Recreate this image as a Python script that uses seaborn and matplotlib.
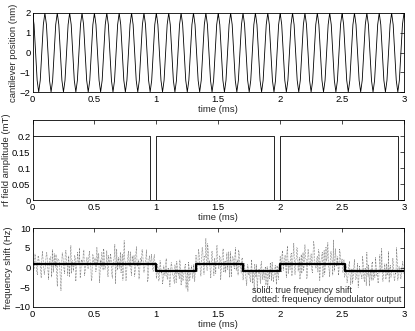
import numpy as np
import pandas as pd
import matplotlib
matplotlib.use("Agg")
import matplotlib.pyplot as plt
import seaborn as sns

# ---- data ----
# one period of the cantilever position (nm), sampled 8 times per period
cantilever_cycle = [2.0, 1.41, 0.0, -1.41, -2.0, -1.41, 0.0, 1.41]
cantilever_period = 0.1   # ms
n_cycles = 30

# rf field amplitude (mT): on, short off gap before each ms
rf_times = [0.0, 0.95, 0.95, 1.0, 1.0, 1.95, 1.95, 2.0, 2.0, 2.95, 2.95, 3.0]
rf_values = [0.2, 0.2, 0.0, 0.0, 0.2, 0.2, 0.0, 0.0, 0.2, 0.2, 0.0, 0.0]

# true frequency shift (Hz), step changes
shift_times = [0.0, 1.0, 1.32, 1.70, 2.0, 2.52, 3.0]
shift_values = [1, -1, 1, -1, 1, -1, -1]

# frequency demodulator output (Hz), samples at 0.00, 0.01, ... ms
demod_step = 0.01
demod_output = [
    2.1, -0.8, 3.4, 0.5, -1.9, 2.7, 1.2, -2.6, 4.1, 0.3,
    -0.5, 3.0, 1.8, -3.1, 2.4, 0.9, 4.6, -1.2, 1.5, 3.3,
    -4.8, 2.2, 0.1, -5.9, 3.7, 1.1, -1.6, 4.4, 0.6, 2.9,
    -2.3, 5.6, 1.4, -0.9, 3.1, -3.5, 2.0, 0.8, 4.9, -1.4,
    1.7, 3.6, -2.1, 0.4, 2.6, -0.3, 4.2, 1.0, -2.8, 3.2,
    0.7, -1.1, 5.1, 2.3, -3.9, 1.9, 3.8, -0.6, 2.5, 0.2,
    4.3, -2.4, 1.3, 3.5, -1.7, 0.5, 2.8, -4.1, 4.7, 1.6,
    -0.2, 3.9, 0.9, -3.2, 6.8, 1.2, -1.5, 2.7, 0.3, 4.0,
    -2.0, 1.8, 3.1, -0.7, 5.3, 0.6, -2.9, 2.2, 1.4, 3.6,
    -1.3, 0.8, 4.5, -3.6, 2.0, 1.1, 3.4, -0.4, 2.6, 0.0,
    -2.8, 0.9, -3.4, 1.7, -1.5, -4.2, 0.4, -2.1, 2.3, -3.0,
    -0.6, -4.9, 1.2, -1.8, -2.7, 0.7, -3.8, -0.2, -1.4, 1.9,
    -4.5, -0.9, -2.4, 0.3, -5.2, -1.1, 1.4, -3.3, -0.5, -2.0,
    0.8, -3.6,
    3.2, -1.0, 4.6, 1.3, -2.2, 5.1, 0.6, 2.9, 7.4, -0.8,
    3.5, 1.8, -2.7, 4.2, 0.4, 2.4, -1.6, 5.6, 1.0, 3.0,
    -3.1, 2.1, 4.8, 0.2, -1.3, 3.7, 1.5, -2.5, 4.0, 0.9,
    2.6, -0.4, 5.0, 1.2, -1.9, 3.4, 0.7, 2.2,
    -3.2, 1.1, -2.0, -4.6, 0.5, -1.2, -3.7, 2.0, -0.7, -5.8,
    -1.6, 0.8, -2.9, -0.3, -4.1, 1.5, -1.9, -3.0, 0.2, -2.4,
    -5.1, -0.6, 1.2, -3.4, -1.0, -2.2, 0.6, -4.3, -1.5, 0.1,
    2.8, -1.2, 4.3, 0.7, 3.1, -2.6, 5.4, 1.6, -0.5, 3.7,
    1.0, 6.2, -1.8, 2.4, 4.9, 0.3, -3.0, 3.3, 1.9, -0.8,
    5.8, 2.1, -2.2, 4.0, 0.5, 3.5, -1.4, 6.6, 1.3, -0.2,
    2.9, 4.5, -3.3, 1.7, 3.9, 0.1, -1.7, 5.2, 2.5, 0.9,
    -2.4, 4.1, 1.4, 7.0, -0.9, 3.0, 0.6, -2.0, 4.7, 1.8,
    2.2, -1.1,
    -2.5, 0.8, -3.9, -1.1, 1.6, -4.4, -0.3, -2.2, 2.1, -3.1,
    -0.8, -5.0, 0.4, -1.7, -2.9, 1.3, -3.6, -0.1, 3.9, -2.3,
    -4.7, -0.6, 0.9, -3.3, -1.4, 2.6, -2.0, -4.0, 0.2, -1.2,
    4.8, -3.5, -0.4, -2.6, 1.0, -1.9, -3.8, 0.6, -0.9, 2.4,
    -2.8, -1.3, 5.0, -3.2, 0.3, -2.1, -0.7, 1.5,
    -1.6,
]
# in-between samples at 0.005, 0.015, ... ms
demod_output_mid = [
    1.4, 0.2, 2.6, -1.1, 3.0, 0.8, -0.4, 1.9, 2.3, -1.8,
    0.6, 3.8, -0.9, 1.2, 2.7, -2.4, 1.0, 3.5, 0.1, -1.3,
    2.2, 1.6, -3.0, 0.4, 2.9, -0.7, 4.1, 1.3, -2.0, 0.9,
    3.2, -1.5, 1.7, 0.3, 2.5, -0.2, 3.9, 1.1, -2.6, 2.0,
    0.5, 4.4, -1.0, 1.8, -0.1, 2.8, 1.5, -3.4, 3.3, 0.7,
    2.4, -0.8, 1.0, 3.6, -1.9, 0.2, 2.1, 4.8, -0.5, 1.3,
    -1.2, 3.1, 0.9, 2.2, -2.7, 1.6, 5.9, 0.4, -0.6, 2.6,
    1.1, -1.4, 3.4, 0.0, 2.0, -3.3, 1.7, 4.2, 0.6, -0.9,
    2.9, 1.2, -2.2, 3.7, 0.3, 1.9, -1.6, 2.4, 4.6, 0.8,
    -0.3, 2.1, 1.4, -2.5, 3.0, 0.5, 1.8, -1.0, 3.3, 1.2,
    -1.9, -0.3, -2.7, 0.5, -1.2, -3.1, -0.6, 1.1, -2.3, -0.1,
    -3.6, -1.0, 0.6, -2.0, -4.0, -0.4, 1.6, -1.7, -2.9, 0.2,
    -1.3, -3.4, -0.8, 0.9, -2.5, -6.1, -0.2, -1.6, 0.4, -2.8,
    -1.1, 0.0,
    2.0, 0.4, 3.6, -0.6, 1.5, 4.3, -1.7, 2.5, 0.9, 6.0,
    1.2, -0.9, 3.1, 2.0, -2.0, 0.8, 4.5, 1.4, -0.3, 2.7,
    0.1, 3.9, -1.2, 1.7, 2.3, -0.5, 4.0, 1.0, -2.3, 2.8,
    0.6, 3.3, -0.8, 1.9, 4.4, 0.3, -1.4, 2.5,
    -2.1, -0.4, -3.3, 0.7, -1.8, -2.6, -0.1, -4.0, -1.3, 0.9,
    -2.5, -6.3, -0.8, -1.5, 1.0, -3.1, -0.5, -2.2, -4.4, 0.3,
    -1.7, -2.9, -0.2, 1.4, -3.6, -1.1, -2.0, 0.5, -3.0, -0.9,
    1.5, 3.4, -0.7, 2.2, 0.4, 4.1, -1.6, 1.1, 2.9, -2.1,
    3.6, 0.8, 1.7, 5.0, -0.9, 2.6, 0.2, -1.5, 3.8, 1.3,
    2.4, -2.8, 4.6, 0.6, 1.9, -0.4, 3.2, 5.5, 0.0, 2.1,
    -1.2, 3.7, 1.0, 2.8, -2.5, 4.3, 0.7, 1.6, 6.3, -0.6,
    2.3, 3.1, -1.9, 1.2, 4.8, 0.3, 2.7, -0.8, 3.5, 1.1,
    -1.3, 2.0,
    -1.8, -0.2, -3.0, 0.6, -2.2, -1.0, -4.1, 0.2, -1.5, -2.7,
    1.1, -3.4, -0.7, -1.9, 2.8, -2.4, -0.3, -4.6, -1.2, 0.7,
    -2.0, -3.2, 1.5, -0.9, -2.6, 0.1, -1.4, -3.7, 3.2, -0.6,
    -2.3, -1.1, 0.9, -3.0, -1.7, 4.1, -0.4, -2.5, -1.0, 0.3,
    -3.3, -1.6, 1.8, -2.1, -0.5, -2.9, 0.4, -1.2,
]

# ---- tables for seaborn ----
cant_vals = cantilever_cycle * n_cycles + [cantilever_cycle[0]]
cant_df = pd.DataFrame({
    "t": np.arange(len(cant_vals)) * cantilever_period / len(cantilever_cycle),
    "pos": cant_vals,
})
rf_df = pd.DataFrame({"t": rf_times, "amp": rf_values})
shift_df = pd.DataFrame({"t": shift_times, "shift": shift_values})
demod_df = pd.concat([
    pd.DataFrame({"t": np.arange(len(demod_output)) * demod_step,
                  "shift": demod_output}),
    pd.DataFrame({"t": (np.arange(len(demod_output_mid)) + 0.5) * demod_step,
                  "shift": demod_output_mid}),
]).sort_values("t")

sns.set_style("white")
plt.rcParams["font.family"] = ["Liberation Sans", "DejaVu Sans"]
plt.rcParams["font.size"] = 6.8
plt.rcParams["axes.linewidth"] = 0.6
plt.rcParams["xtick.direction"] = "in"
plt.rcParams["ytick.direction"] = "in"
plt.rcParams["xtick.top"] = True
plt.rcParams["ytick.right"] = True
plt.rcParams["xtick.major.size"] = 3
plt.rcParams["ytick.major.size"] = 3
plt.rcParams["xtick.major.width"] = 0.5
plt.rcParams["ytick.major.width"] = 0.5
plt.rcParams["xtick.major.pad"] = 2
plt.rcParams["ytick.major.pad"] = 1.5
plt.rcParams["axes.labelpad"] = 1

fig = plt.figure(figsize=(4.15, 3.31), dpi=100)
W, H = 415.0, 331.0
left, right = 32.5, 404.0

def make_axes(top, bottom):
    return fig.add_axes([left / W, 1 - bottom / H, (right - left) / W, (bottom - top) / H])

ax1 = make_axes(13, 92)
ax2 = make_axes(120, 200)
ax3 = make_axes(228, 307)

sns.lineplot(data=cant_df, x="t", y="pos", ax=ax1, color="black",
             linewidth=0.6, estimator=None, sort=False)
ax1.set_ylim(-2, 2)
ax1.set_yticks([-2, -1, 0, 1, 2])
ax1.set_ylabel("cantilever position (nm)")

sns.lineplot(data=rf_df, x="t", y="amp", ax=ax2, color="black",
             linewidth=0.6, estimator=None, sort=False)
ax2.set_ylim(0, 0.25)
ax2.set_yticks([0, 0.05, 0.1, 0.15, 0.2])
ax2.set_yticklabels(["0", "0.05", "0.1", "0.15", "0.2"])
ax2.set_ylabel("rf field amplitude (mT)")

sns.lineplot(data=demod_df, x="t", y="shift", ax=ax3, color="#222222",
             linewidth=0.4, linestyle=":", estimator=None, sort=False)
sns.lineplot(data=shift_df, x="t", y="shift", ax=ax3, color="black",
             linewidth=1.6, estimator=None, sort=False, drawstyle="steps-post")
ax3.set_ylim(-10, 10)
ax3.set_yticks([-10, -5, 0, 5, 10])
ax3.set_ylabel("frequency shift (Hz)")
ax3.text(1.77, -5.7, "solid: true frequency shift", ha="left", va="center",
         fontsize=6.4)
ax3.text(1.77, -8.0, "dotted: frequency demodulator output", ha="left",
         va="center", fontsize=6.4)

for ax in (ax1, ax2, ax3):
    ax.set_xlim(0, 3)
    ax.set_xticks([0, 0.5, 1, 1.5, 2, 2.5, 3])
    ax.set_xticklabels(["0", "0.5", "1", "1.5", "2", "2.5", "3"])
    ax.set_xlabel("time (ms)")
    for s in ax.spines.values():
        s.set_color("black")
    ax.tick_params(colors="black")

fig.savefig("out.png", dpi=100)
